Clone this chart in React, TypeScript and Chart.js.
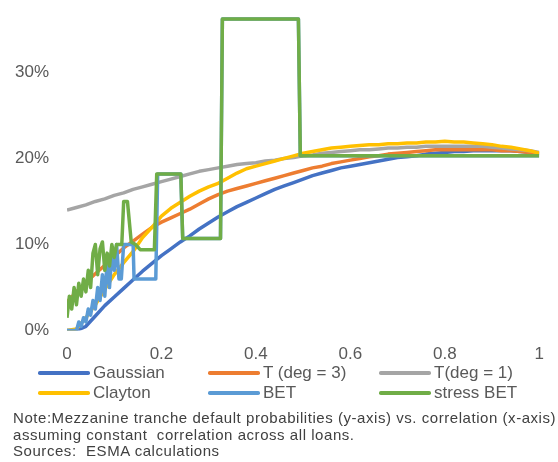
import React, { useEffect, useRef } from "react";
import { Chart, registerables } from "chart.js";

Chart.register(...registerables);

// Correlation grid for the smooth copula curves
const X_SMOOTH = [
  0, 0.02, 0.04, 0.06, 0.08, 0.1, 0.12, 0.14, 0.16, 0.18,
  0.2, 0.22, 0.24, 0.26, 0.28, 0.3, 0.32, 0.34, 0.36, 0.38,
  0.4, 0.42, 0.44, 0.46, 0.48, 0.5, 0.52, 0.54, 0.56, 0.58,
  0.6, 0.62, 0.64, 0.66, 0.68, 0.7, 0.72, 0.74, 0.76, 0.78,
  0.8, 0.82, 0.84, 0.86, 0.88, 0.9, 0.92, 0.94, 0.96, 0.98, 1,
];

// Default probabilities in %
const GAUSSIAN = [
  0, 0, 0.5, 1.7, 2.9, 3.9, 4.9, 5.9, 6.9, 7.8,
  8.7, 9.5, 10.3, 11.0, 11.8, 12.5, 13.2, 13.8, 14.4, 14.9,
  15.4, 15.9, 16.4, 16.8, 17.2, 17.6, 18.0, 18.3, 18.6, 18.9,
  19.1, 19.3, 19.5, 19.7, 19.9, 20.1, 20.2, 20.3, 20.5, 20.6,
  20.7, 20.8, 20.8, 20.9, 20.9, 20.9, 20.9, 20.9, 20.8, 20.7, 20.5,
];
const T_DEG3 = [
  3.3, 4.5, 5.6, 6.6, 7.6, 8.6, 9.6, 10.4, 11.2, 12.0,
  12.6, 13.1, 13.6, 14.1, 14.7, 15.3, 15.8, 16.2, 16.5, 16.8,
  17.1, 17.4, 17.7, 18.0, 18.3, 18.6, 18.9, 19.1, 19.4, 19.6,
  19.8, 20.0, 20.2, 20.3, 20.5, 20.6, 20.7, 20.8, 20.9, 21.0,
  21.0, 21.0, 21.0, 21.0, 21.0, 21.0, 20.9, 20.9, 20.8, 20.7, 20.6,
];
const T_DEG1 = [
  14.0, 14.3, 14.6, 15.0, 15.3, 15.7, 16.0, 16.4, 16.7, 17.0,
  17.3, 17.6, 17.9, 18.2, 18.5, 18.7, 18.9, 19.1, 19.3, 19.4,
  19.5, 19.7, 19.8, 20.0, 20.1, 20.3, 20.4, 20.6, 20.7, 20.8,
  20.9, 21.0, 21.0, 21.1, 21.2, 21.2, 21.3, 21.3, 21.4, 21.4,
  21.4, 21.4, 21.4, 21.4, 21.4, 21.3, 21.2, 21.1, 21.0, 20.9, 20.7,
];
const CLAYTON = [
  0, 0.2, 1.5, 3.0, 4.8, 6.5, 7.9, 9.2, 10.8, 12.0,
  13.3, 14.2, 14.9, 15.6, 16.2, 16.7, 17.1, 17.7, 18.3, 18.8,
  19.1, 19.4, 19.7, 20.0, 20.3, 20.6, 20.8, 21.0, 21.2, 21.3,
  21.4, 21.5, 21.6, 21.6, 21.7, 21.7, 21.8, 21.8, 21.9, 21.9,
  22.0, 21.9, 21.9, 21.8, 21.7, 21.6, 21.4, 21.3, 21.1, 20.9, 20.6,
];

// BET (step-like) series
const BET_X = [
  0, 0.02, 0.025, 0.03, 0.035, 0.04, 0.045, 0.05, 0.055, 0.06,
  0.065, 0.07, 0.075, 0.08, 0.085, 0.09, 0.095, 0.1, 0.105, 0.11,
  0.115, 0.12, 0.13, 0.14, 0.142, 0.188, 0.192, 0.241, 0.245, 0.325,
  0.329, 0.49, 0.494, 1,
];
const BET_Y = [
  0, 0, 1.0, 0.5, 1.5, 1.0, 2.5, 1.8, 3.5, 2.5,
  5.0, 3.5, 6.5, 4.0, 8.0, 5.0, 9.0, 7.0, 10.0, 6.0,
  6.0, 10.0, 10.0, 10.0, 6.0, 6.0, 18.2, 18.2, 10.7, 10.7,
  36.2, 36.2, 20.3, 20.3,
];

const STRESS_X = [
  0, 0.005, 0.01, 0.015, 0.02, 0.025, 0.03, 0.035, 0.04, 0.045,
  0.05, 0.055, 0.06, 0.065, 0.07, 0.075, 0.08, 0.085, 0.09, 0.095,
  0.1, 0.105, 0.11, 0.116, 0.12, 0.128, 0.136, 0.145, 0.155, 0.185,
  0.19, 0.241, 0.245, 0.325, 0.329, 0.49, 0.494, 1,
];
const STRESS_Y = [
  1.5, 4.0, 2.5, 5.0, 3.0, 5.5, 4.0, 6.0, 4.5, 7.0,
  5.0, 9.0, 10.0, 6.5, 9.5, 10.3, 7.0, 9.0, 7.5, 10.0,
  8.5, 10.0, 10.0, 10.0, 15.0, 15.0, 10.3, 10.0, 9.4, 9.4,
  18.2, 18.2, 10.7, 10.7, 36.2, 36.2, 20.3, 20.3,
];

const SERIES_NAMES = ["Gaussian", "T (deg = 3)", "T(deg = 1)", "Clayton", "BET", "stress BET"];
const SERIES_COLORS = ["#4472C4", "#ED7D31", "#A5A5A5", "#FFC000", "#5B9BD5", "#70AD47"];

const X_TICKS = [0, 0.2, 0.4, 0.6, 0.8, 1];
const Y_TICKS = [0, 10, 20, 30];

const NOTE_LINES = [
  "Note:Mezzanine tranche default probabilities (y-axis) vs. correlation (x-axis)",
  "assuming constant  correlation across all loans.",
  "Sources:  ESMA calculations",
];

const FONT = "'Liberation Sans', Arial, sans-serif";

export default function App() {
  const ref = useRef<HTMLCanvasElement | null>(null);

  useEffect(() => {
    if (!ref.current) return;
    const pts = (xs: number[], ys: number[]) => xs.map((x, i) => ({ x, y: ys[i] }));
    const seriesData = [
      pts(X_SMOOTH, GAUSSIAN),
      pts(X_SMOOTH, T_DEG3),
      pts(X_SMOOTH, T_DEG1),
      pts(X_SMOOTH, CLAYTON),
      pts(BET_X, BET_Y),
      pts(STRESS_X, STRESS_Y),
    ];
    const chart = new Chart(ref.current, {
      type: "line",
      data: {
        datasets: seriesData.map((d, i) => ({
          label: SERIES_NAMES[i],
          data: d,
          borderColor: SERIES_COLORS[i],
          backgroundColor: SERIES_COLORS[i],
          borderWidth: 3.5,
          pointRadius: 0,
          tension: 0,
          fill: false,
          order: 6 - i,
          borderJoinStyle: "round" as const,
        })),
      },
      options: {
        animation: false,
        responsive: false,
        maintainAspectRatio: false,
        layout: { padding: { left: 14, right: 17, top: 0, bottom: 0 } },
        plugins: { legend: { display: false }, tooltip: { enabled: false } },
        scales: {
          x: {
            type: "linear",
            min: 0,
            max: 1,
            grid: { display: false, drawTicks: false },
            border: { display: false },
            afterBuildTicks: (s: any) => {
              s.ticks = X_TICKS.map((v) => ({ value: v }));
            },
            ticks: {
              padding: 14,
              color: "#595959",
              font: { family: FONT, size: 17 },
              maxRotation: 0,
              callback: (v: any) => String(Number(Number(v).toFixed(1))),
            },
          },
          y: {
            type: "linear",
            min: 0,
            max: 37.1,
            grid: { display: false, drawTicks: false },
            border: { display: false },
            afterBuildTicks: (s: any) => {
              s.ticks = Y_TICKS.map((v) => ({ value: v }));
            },
            afterFit: (s: any) => {
              s.width = 53;
            },
            ticks: {
              padding: 18,
              color: "#595959",
              font: { family: FONT, size: 17 },
              callback: (v: any) => `${v}%`,
            },
          },
        },
      },
    });
    return () => chart.destroy();
  }, []);

  const colLeft = [38, 208, 379];
  const rowTop = [373, 393];

  return (
    <div
      style={{
        position: "absolute",
        left: 0,
        top: 0,
        width: 558,
        height: 462,
        background: "#fff",
        fontFamily: FONT,
        overflow: "hidden",
      }}
    >
      <canvas ref={ref} width={558} height={396} style={{ position: "absolute", left: 0, top: -17 }} />
      {SERIES_NAMES.map((name, i) => {
        const r = Math.floor(i / 3);
        const c = i % 3;
        return (
          <div key={name}>
            <div
              style={{
                position: "absolute",
                left: colLeft[c],
                top: rowTop[r] - 2,
                width: 52,
                height: 3.5,
                borderRadius: 1.75,
                background: SERIES_COLORS[i],
              }}
            />
            <div
              style={{
                position: "absolute",
                left: colLeft[c] + 55,
                top: rowTop[r] - 10,
                lineHeight: "20px",
                fontSize: 17,
                color: "#595959",
                whiteSpace: "nowrap",
              }}
            >
              {name}
            </div>
          </div>
        );
      })}
      {NOTE_LINES.map((line, i) => (
        <div
          key={i}
          style={{
            position: "absolute",
            left: 13,
            top: 410 + i * 16.5,
            lineHeight: "16.5px",
            fontSize: 15,
            letterSpacing: 0.55,
            color: "#404040",
            whiteSpace: "pre",
          }}
        >
          {line}
        </div>
      ))}
    </div>
  );
}
